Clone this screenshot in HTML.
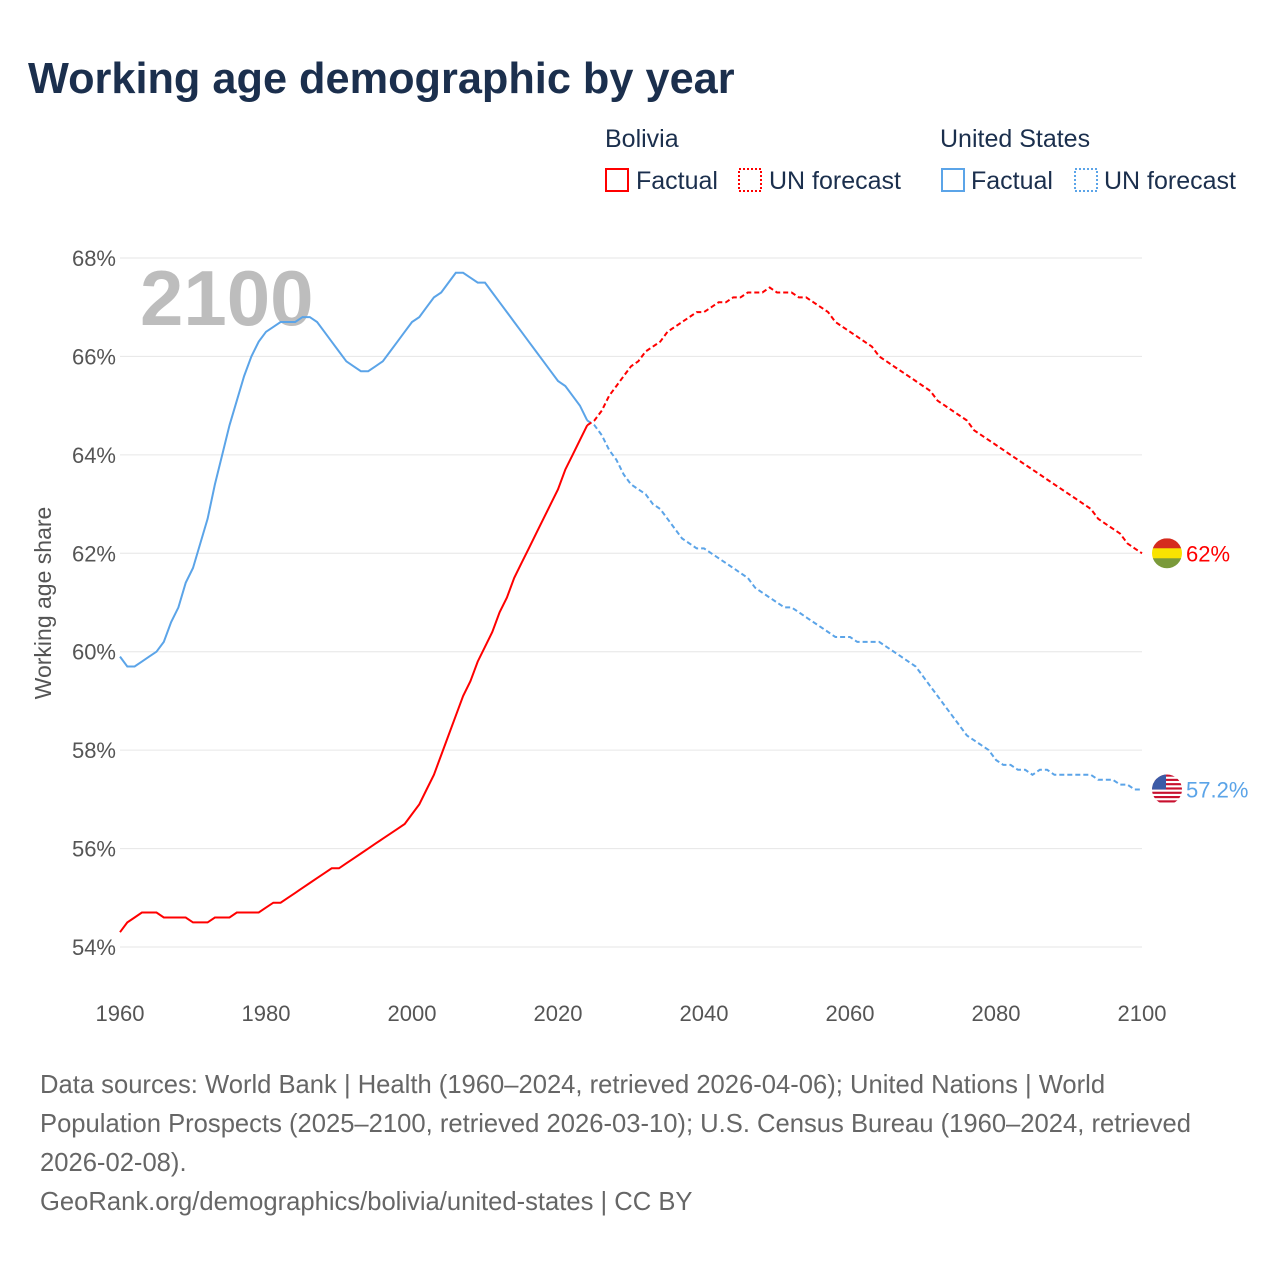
<!DOCTYPE html>
<html><head><meta charset="utf-8"><style>
body{margin:0;background:#fff;font-family:"Liberation Sans",sans-serif;}
#wrap{position:relative;width:1280px;height:1280px;overflow:hidden;}
</style></head><body>
<div id="wrap">
<svg id="svg" width="1280" height="1280" xmlns="http://www.w3.org/2000/svg">
<text x="28" y="93" font-size="43.3" font-weight="bold" fill="#1b2f4d">Working age demographic by year</text>
<g font-size="25" fill="#1b2f4d">
<text x="605" y="147">Bolivia</text>
<text x="940" y="147">United States</text>
<g><rect x="606" y="169" width="22" height="22" fill="none" stroke="#f00" stroke-width="2"/><text x="636" y="189">Factual</text></g>
<g><rect x="739" y="169" width="22" height="22" fill="none" stroke="#f00" stroke-width="2" stroke-dasharray="2,2"/><text x="769" y="189">UN forecast</text></g>
<g><rect x="942" y="169" width="22" height="22" fill="none" stroke="#5ba4e8" stroke-width="2"/><text x="971" y="189">Factual</text></g>
<g><rect x="1075" y="169" width="22" height="22" fill="none" stroke="#5ba4e8" stroke-width="2" stroke-dasharray="2,2"/><text x="1104" y="189">UN forecast</text></g>
</g>
<text x="140" y="325" font-size="78" font-weight="bold" fill="#bdbdbd">2100</text>
<g id="grid"></g><g id="axes"></g><g id="series"></g>
<text transform="translate(51,603) rotate(-90)" text-anchor="middle" font-size="23" fill="#555">Working age share</text>
<g font-size="25.6" fill="#666">
<text x="40" y="1093">Data sources: World Bank | Health (1960–2024, retrieved 2026-04-06); United Nations | World</text>
<text x="40" y="1132">Population Prospects (2025–2100, retrieved 2026-03-10); U.S. Census Bureau (1960–2024, retrieved</text>
<text x="40" y="1171">2026-02-08).</text>
<text x="40" y="1210">GeoRank.org/demographics/bolivia/united-states | CC BY</text>
</g>
</svg>
</div>
<script>
const years=[];for(let y=1960;y<=2100;y++)years.push(y);
const usValues=[59.9,59.7,59.7,59.8,59.9,60.0,60.2,60.6,60.9,61.4,61.7,62.2,62.7,63.4,64.0,64.6,65.1,65.6,66.0,66.3,66.5,66.6,66.7,66.7,66.7,66.8,66.8,66.7,66.5,66.3,66.1,65.9,65.8,65.7,65.7,65.8,65.9,66.1,66.3,66.5,66.7,66.8,67.0,67.2,67.3,67.5,67.7,67.7,67.6,67.5,67.5,67.3,67.1,66.9,66.7,66.5,66.3,66.1,65.9,65.7,65.5,65.4,65.2,65.0,64.7,
64.6,64.4,64.1,63.9,63.6,63.4,63.3,63.2,63.0,62.9,62.7,62.5,62.3,62.2,62.1,62.1,62.0,61.9,61.8,61.7,61.6,61.5,61.3,61.2,61.1,61.0,60.9,60.9,60.8,60.7,60.6,60.5,60.4,60.3,60.3,60.3,60.2,60.2,60.2,60.2,60.1,60.0,59.9,59.8,59.7,59.5,59.3,59.1,58.9,58.7,58.5,58.3,58.2,58.1,58.0,57.8,57.7,57.7,57.6,57.6,57.5,57.6,57.6,57.5,57.5,57.5,57.5,57.5,57.5,57.4,57.4,57.4,57.3,57.3,57.2,57.2];
const boliviaValues=[54.3,54.5,54.6,54.7,54.7,54.7,54.6,54.6,54.6,54.6,54.5,54.5,54.5,54.6,54.6,54.6,54.7,54.7,54.7,54.7,54.8,54.9,54.9,55.0,55.1,55.2,55.3,55.4,55.5,55.6,55.6,55.7,55.8,55.9,56.0,56.1,56.2,56.3,56.4,56.5,56.7,56.9,57.2,57.5,57.9,58.3,58.7,59.1,59.4,59.8,60.1,60.4,60.8,61.1,61.5,61.8,62.1,62.4,62.7,63.0,63.3,63.7,64.0,64.3,64.6,
64.7,64.9,65.2,65.4,65.6,65.8,65.9,66.1,66.2,66.3,66.5,66.6,66.7,66.8,66.9,66.9,67.0,67.1,67.1,67.2,67.2,67.3,67.3,67.3,67.4,67.3,67.3,67.3,67.2,67.2,67.1,67.0,66.9,66.7,66.6,66.5,66.4,66.3,66.2,66.0,65.9,65.8,65.7,65.6,65.5,65.4,65.3,65.1,65.0,64.9,64.8,64.7,64.5,64.4,64.3,64.2,64.1,64.0,63.9,63.8,63.7,63.6,63.5,63.4,63.3,63.2,63.1,63.0,62.9,62.7,62.6,62.5,62.4,62.2,62.1,62.0];
const forecastStart=2024;
const yTicks=[54,56,58,60,62,64,66,68];
const xTicks=[1960,1980,2000,2020,2040,2060,2080,2100];
const endLabels=["62%","57.2%"];
const NS="http://www.w3.org/2000/svg";
const X=y=>120+(y-1960)*(1142-120)/140;
const Y=v=>947-(v-54)*(947-258)/14;
function mk(tag,attrs,parent){const e=document.createElementNS(NS,tag);for(const k in attrs)e.setAttribute(k,attrs[k]);parent.appendChild(e);return e;}
const grid=document.getElementById('grid'),axes=document.getElementById('axes'),ser=document.getElementById('series');
yTicks.forEach(t=>{
 const l=mk('line',{x1:120,x2:1142,y1:Y(t),y2:Y(t),stroke:'#e6e6e6','stroke-width':1},grid);
 
 
 const tx=mk('text',{x:116,y:Y(t)+8,'text-anchor':'end','font-size':22,fill:'#555'},axes);
 tx.textContent=t+'%';
 
 
});
xTicks.forEach(t=>{
 const tx=mk('text',{x:X(t),y:1021,'text-anchor':'middle','font-size':22,fill:'#555'},axes);
 tx.textContent=t;
 
 
});
function path(vals,from,to,color,dash,name){
 let d='';years.forEach((y,i)=>{if(y>=from&&y<=to)d+=(d?'L':'M')+X(y).toFixed(1)+','+Y(vals[i]).toFixed(1);});
 const p=mk('path',{d:d,fill:'none',stroke:color,'stroke-width':2},ser);
 if(dash)p.setAttribute('stroke-dasharray','5,3');
 
 
}
path(usValues,1960,forecastStart,'#5ba4e8',false,'line-us-factual');
path(usValues,forecastStart,2100,'#5ba4e8',true,'line-us-forecast');
path(boliviaValues,1960,forecastStart,'#f00',false,'line-bolivia-factual');
path(boliviaValues,forecastStart,2100,'#f00',true,'line-bolivia-forecast');
const bv=boliviaValues[boliviaValues.length-1],uv=usValues[usValues.length-1];
const cx=1167;
const bg=mk('g',{},ser);


const by=Y(bv);
const cbp=mk('clipPath',{id:'cb'},bg);mk('circle',{cx:cx,cy:by,r:15},cbp);
[['#d52b1e',-15],['#f9e300',-5],['#7a9a3a',5]].forEach(([c,o])=>mk('rect',{x:cx-15,y:by+o,width:30,height:10.2,fill:c,'clip-path':'url(#cb)'},bg));
const ug=mk('g',{},ser);


const uy=Y(uv);
const cu=mk('clipPath',{id:'cu'},ug);mk('circle',{cx:cx,cy:uy,r:15},cu);
mk('rect',{x:cx-15,y:uy-15,width:30,height:30,fill:'#fff','clip-path':'url(#cu)'},ug);
for(let i=0;i<7;i++)mk('rect',{x:cx-15,y:uy-15+i*4.3,width:30,height:2.15,fill:'#c8102e','clip-path':'url(#cu)'},ug);
mk('rect',{x:cx-15,y:uy-15,width:14,height:15,fill:'#3c5aa6','clip-path':'url(#cu)'},ug);
const lb=mk('text',{x:1186,y:by+8,'font-size':22,fill:'#f00'},ser);lb.textContent=endLabels[0];


const lu=mk('text',{x:1186,y:uy+8,'font-size':22,fill:'#5ba4e8'},ser);lu.textContent=endLabels[1];


</script>
</body></html>
